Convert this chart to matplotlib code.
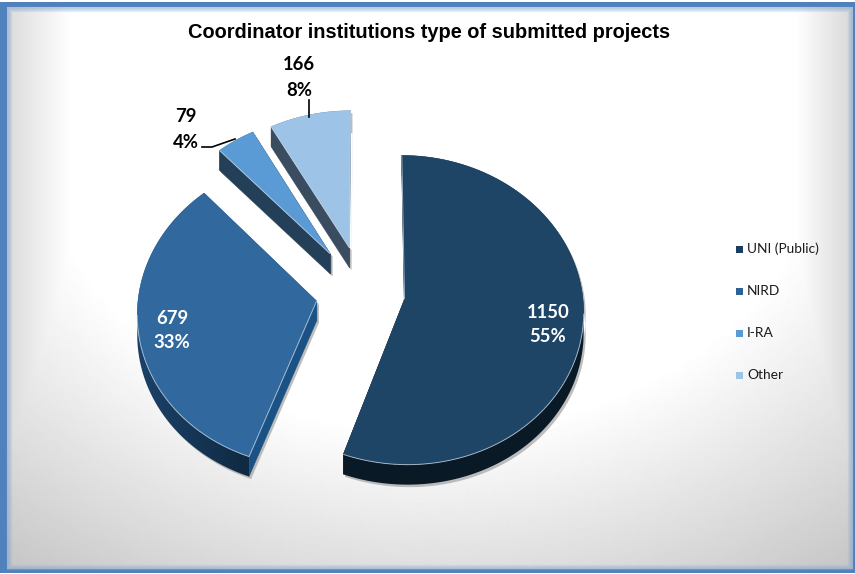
import numpy as np
import matplotlib
matplotlib.use("Agg")
import matplotlib.pyplot as plt
from matplotlib.patches import Polygon, Rectangle
from matplotlib.collections import LineCollection
from matplotlib.colors import LinearSegmentedColormap

categories = ["UNI (Public)", "NIRD", "I-RA", "Other"]
values = [1150, 679, 79, 166]
percent_labels = ["55%", "33%", "4%", "8%"]
explode = [0.236, 0.265, 0.32, 0.31]
top_colors = ["#1E4466", "#31699F", "#5B9BD5", "#9DC3E6"]
rim_left = ["#0A1926", "#1C4269", "#243F58", "#3A4D60"]
rim_right = ["#0A1926", "#0F2A42", "#243F58", "#3A4D60"]
radial_colors = ["#0A1926", "#1B5286", "#243F58", "#3A4D60"]
legend_colors = ["#1B3D5E", "#2A6398", "#5B9BD5", "#9DC3E6"]
title = "Coordinator institutions type of submitted projects"

W, H = 855, 574
X0, Y0, RX, RY, K, DEPTH = 363, 293.0, 178, 153, 0.07, 20


def project(u, v):
    s = 1 / (1 + K * v)
    return X0 + RX * u * s, Y0 - RY * v * s


fig = plt.figure(figsize=(W / 100, H / 100), dpi=100, facecolor="white")
pie_ax = fig.add_axes([0, 0, 1, 1])
wedges, _ = pie_ax.pie(values, explode=explode, startangle=90, counterclock=False)
pie_ax.set_visible(False)

ax = fig.add_axes([0, 0, 1, 1])
ax.set_xlim(0, W)
ax.set_ylim(H, 0)
ax.axis("off")
ax.autoscale(False)

# frame and background
ax.add_patch(Rectangle((0, 2), W, 571, fc="#4F81BD", ec="none", zorder=0))
yy, xx = np.mgrid[7:569, 7:852]
d = np.sqrt(((xx - 430) / 390.0) ** 2 + ((yy - 130) / 300.0) ** 2)
ell = 255 - np.clip(d - 1, 0, None) * 70
edge_l = 255 - np.clip((70 - xx) / 60.0, 0, 1) * 34
edge_r = 255 - np.clip((xx - 795) / 55.0, 0, 1) * 38
g = np.minimum(np.minimum(ell, edge_l), edge_r)
ax.imshow(g, cmap="gray", vmin=0, vmax=255, extent=(7, 852, 569, 7), zorder=0.5,
          aspect="auto", interpolation="bilinear")
for i in range(5):
    ax.add_patch(Rectangle((7 + i, 7 + i), 845 - 2 * i, 562 - 2 * i, fc="none",
                           ec="#7FA3CF", lw=1, alpha=0.5 - i * 0.09, zorder=0.6))


def outline(w):
    t = np.radians(np.linspace(w.theta1, w.theta2, 160))
    cx, cy = w.center
    u = np.r_[cx + w.r * np.cos(t), cx]
    v = np.r_[cy + w.r * np.sin(t), cy]
    return np.column_stack(project(u, v))


for i in [3, 2, 1, 0]:
    z = 2 + (3 - i) * 4
    pts = outline(wedges[i])
    arc, apex = pts[:-1], pts[-1]
    down = np.array([0, DEPTH])
    rim = np.vstack([arc, (arc + down)[::-1]])
    radial = [np.array([arc[0], apex, apex + down, arc[0] + down]),
              np.array([arc[-1], apex, apex + down, arc[-1] + down])]
    for poly in [rim] + radial:
        ax.add_patch(Polygon(poly + [2, 2.5], fc="#A8A8A8", ec="none", alpha=0.75, zorder=z))
    for poly in radial:
        ax.add_patch(Polygon(poly, fc=radial_colors[i], ec=radial_colors[i], lw=0.3, zorder=z + 1))
    cmap = LinearSegmentedColormap.from_list("rim", [rim_left[i], rim_right[i]])
    x0, x1 = rim[:, 0].min(), rim[:, 0].max()
    y0, y1 = rim[:, 1].min(), rim[:, 1].max()
    im = ax.imshow(np.linspace(0, 1, 64)[None, :], cmap=cmap, vmin=0, vmax=1,
                   extent=(x0, x1, y1, y0), aspect="auto", zorder=z + 1.5)
    clip = Polygon(rim, transform=ax.transData)
    im.set_clip_path(clip)
    ax.add_patch(Polygon(pts, fc=top_colors[i], ec=top_colors[i], lw=0.3, zorder=z + 2))
    # thin highlight along the edges that face the viewer
    closed = np.vstack([pts, pts[0]])
    area = np.sum(closed[:-1, 0] * closed[1:, 1] - closed[1:, 0] * closed[:-1, 1])
    segs = np.stack([closed[:-1], closed[1:]], axis=1)
    dv = segs[:, 1] - segs[:, 0]
    ny = -dv[:, 0] * np.sign(area)
    ax.add_collection(LineCollection(segs[ny > 0.001], colors="#C9D6E4", linewidths=0.7,
                                     alpha=0.75, zorder=z + 3))

ax.text(429, 32.5, title, ha="center", va="center", fontsize=14.4, fontweight="bold",
        family="Liberation Sans", color="black", zorder=30)

label_pos = [(548, 312, 337), (172, 318, 343), (186, 117, 142), (299, 64, 90)]
label_col = ["white", "white", "black", "black"]
for i, (x, y1, y2) in enumerate(label_pos):
    for y, s in ((y1, str(values[i])), (y2, percent_labels[i])):
        ax.text(x, y, s, ha="center", va="center", fontsize=13.3, fontweight="bold",
                family="Lato", color=label_col[i], zorder=30)

ax.plot([235, 212, 202], [139, 147, 147], color="black", lw=1.2, zorder=30)
ax.plot([309, 309], [100, 117], color="black", lw=1.2, zorder=30)

for i, name in enumerate(categories):
    y = 249 + 42 * i
    ax.add_patch(Rectangle((735.5, y - 3.5), 7.5, 7.5, fc=legend_colors[i], ec="none", zorder=30))
    ax.text(747, y, name, ha="left", va="center", fontsize=9.9, family="Lato", color="#1A1A1A", zorder=30)

fig.savefig("out.png", dpi=100)
